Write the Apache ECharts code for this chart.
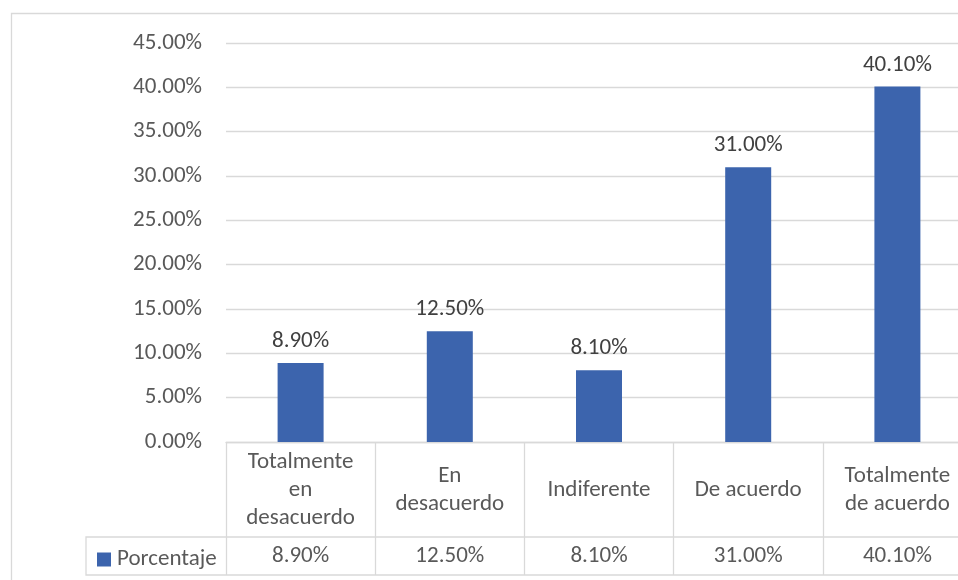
<!DOCTYPE html>
<html>
<head>
<meta charset="utf-8">
<script src="https://cdn.jsdelivr.net/npm/echarts@6/dist/echarts.min.js"></script>
<style>
  html, body { margin: 0; padding: 0; background: #fff; }
  #chart { width: 958px; height: 580px; }
</style>
</head>
<body>
<div id="chart"></div>
<script>
// categorías tal como aparecen en la tabla (con saltos de línea)
var categorias = ['Totalmente\nen\ndesacuerdo', 'En\ndesacuerdo', 'Indiferente', 'De acuerdo', 'Totalmente\nde acuerdo'];
var porcentaje = [8.9, 12.5, 8.1, 31.0, 40.1];
var serieNombre = 'Porcentaje';
var ejeY = { min: 0, max: 45, interval: 5 };

var fuente = "Carlito, Calibri, 'Liberation Sans', sans-serif";
var gris = '#d9d9d9';
var tam = 23;

function pct(v) { return v.toFixed(2) + '%'; }

var chart = echarts.init(document.getElementById('chart'));

var option = {
  animation: false,
  textStyle: { fontFamily: fuente },
  grid: { left: 226, top: 43, width: 746, height: 399, containLabel: false, outerBoundsMode: 'none' },
  legend: {
    data: [serieNombre],
    left: 92,
    top: 543,
    icon: 'rect',
    itemWidth: 14,
    itemHeight: 14,
    itemGap: 6,
    textStyle: { fontFamily: fuente, fontSize: tam, color: '#595959', padding: [0, 0, 0, 1] }
  },
  xAxis: [
    {
      type: 'category',
      data: categorias,
      axisLine: { show: true, lineStyle: { color: gris, width: 1.3 } },
      axisTick: { show: true, length: 133, interval: 0, lineStyle: { color: gris, width: 1.3 } },
      axisLabel: {
        interval: 0,
        margin: 48,
        verticalAlign: 'middle',
        lineHeight: 28,
        fontSize: tam,
        color: '#595959',
        fontFamily: fuente
      }
    },
    {
      type: 'category',
      data: porcentaje.map(pct),
      position: 'bottom',
      offset: 95,
      axisLine: { show: false },
      axisTick: { show: false },
      axisLabel: {
        interval: 0,
        margin: 19,
        verticalAlign: 'middle',
        fontSize: tam,
        color: '#595959',
        fontFamily: fuente
      }
    }
  ],
  yAxis: {
    type: 'value',
    min: ejeY.min,
    max: ejeY.max,
    interval: ejeY.interval,
    axisLine: { show: false },
    axisTick: { show: false },
    axisLabel: {
      margin: 24,
      fontSize: tam,
      color: '#595959',
      fontFamily: fuente,
      formatter: function (v) { return pct(v); }
    },
    splitLine: { lineStyle: { color: gris, width: 1.3 } }
  },
  series: [
    {
      name: serieNombre,
      type: 'bar',
      data: porcentaje,
      barWidth: 46,
      itemStyle: { color: '#3c64ad' },
      label: {
        show: true,
        position: 'top',
        distance: 10,
        fontSize: tam,
        color: '#404040',
        fontFamily: fuente,
        formatter: function (p) { return pct(p.value); }
      }
    }
  ],
  graphic: [
    // borde exterior del gráfico
    {
      type: 'rect',
      shape: { x: 11.5, y: 13.5, width: 1000, height: 700 },
      style: { fill: 'none', stroke: gris, lineWidth: 1.3 },
      silent: true
    },
    // fila de datos de la tabla
    {
      type: 'rect',
      shape: { x: 86, y: 537, width: 886, height: 38 },
      style: { fill: 'none', stroke: gris, lineWidth: 1.3 },
      silent: true
    }
  ]
};

chart.setOption(option);
</script>
</body>
</html>
